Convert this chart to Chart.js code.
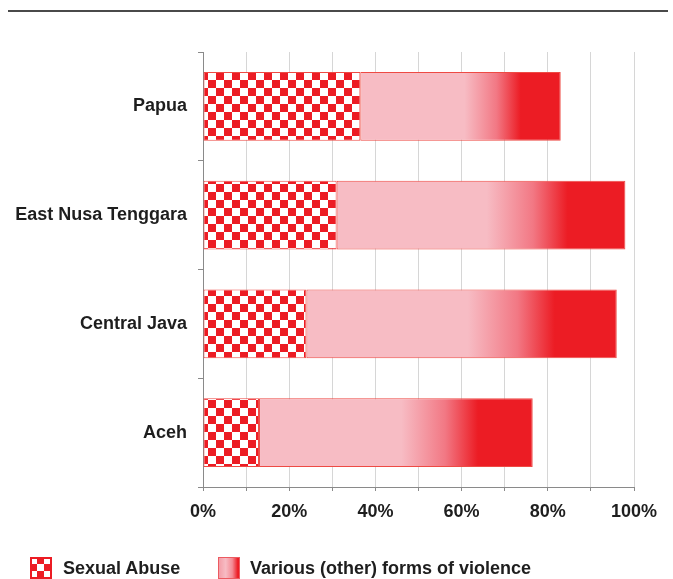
<!DOCTYPE html>
<html>
<head>
<meta charset="utf-8">
<script src="https://cdn.jsdelivr.net/npm/chart.js@4.4.0/dist/chart.umd.min.js"></script>
<style>
  html, body { margin: 0; padding: 0; background: #fff; }
  body { width: 673px; height: 579px; position: relative; overflow: hidden; font-family: "Liberation Sans", Arial, sans-serif; }
  #topline { position: absolute; left: 8px; top: 10px; width: 660px; height: 2px; background: #4a4a4a; }
  #wrap { position: absolute; left: 0; top: 0; width: 673px; height: 579px; }
  #legend { position: absolute; top: 557px; left: 0; font-weight: bold; font-size: 18px; color: #1e1e1e; }
  #legend span.item { position: absolute; white-space: nowrap; line-height: 22px; }
  #legend i { position: absolute; top: 0; width: 22px; height: 22px; }
  .chk { background-color: #fff;
    background-image: conic-gradient(#ec1c24 25%, #fff 0 50%, #ec1c24 0 75%, #fff 0);
    background-size: 14px 14px; background-position: 0 0; box-shadow: inset 0 0 0 2px #ec1c24; }
  .grd { background: linear-gradient(to right, #f39aa4, #f7bcc4 35%, #f48a94 65%, #ec1c24 90%); box-shadow: inset 0 0 0 1px #ec5a60; }
</style>
</head>
<body>
<div id="topline"></div>
<div id="wrap"><canvas id="chart" width="673" height="579"></canvas></div>
<div id="legend">
  <span class="item" style="left:30px"><i class="chk" style="left:0"></i><b style="margin-left:33px">Sexual Abuse</b></span>
  <span class="item" style="left:218px"><i class="grd" style="left:0"></i><b style="margin-left:32px">Various (other) forms of violence</b></span>
</div>
<script>
// ---------- DATA ----------
const regions = ["Papua", "East Nusa Tenggara", "Central Java", "Aceh"];
const sexualAbuse = [36.5, 31, 24, 13];
const otherViolence = [46.5, 67, 72, 63.5];
const xTicks = [0, 20, 40, 60, 80, 100];

const RED = "#ec1c24";
const PINK = "#f7bcc4";

// checkered fill for sexual abuse
function checkerPattern() {
  const c = document.createElement("canvas");
  c.width = 16; c.height = 16;
  const g = c.getContext("2d");
  g.fillStyle = "#fff"; g.fillRect(0, 0, 16, 16);
  g.fillStyle = RED;
  g.fillRect(0, 0, 8, 8);
  g.fillRect(8, 8, 8, 8);
  return g.createPattern(c, "repeat");
}

// pink -> red gradient along each bar
function barGradient(ctx) {
  const chart = ctx.chart;
  if (!chart.chartArea || ctx.type !== "data") return PINK;
  const x = chart.scales.x;
  const i = ctx.dataIndex;
  const x0 = x.getPixelForValue(sexualAbuse[i]);
  const x1 = x.getPixelForValue(sexualAbuse[i] + otherViolence[i]);
  const g = chart.ctx.createLinearGradient(x0, 0, x1, 0);
  g.addColorStop(0, PINK);
  g.addColorStop(0.52, PINK);
  g.addColorStop(0.68, "#f27884");
  g.addColorStop(0.8, RED);
  g.addColorStop(1, RED);
  return g;
}

const font = { family: "'Liberation Sans', Arial, sans-serif", size: 18, weight: "bold" };

new Chart(document.getElementById("chart"), {
  type: "bar",
  data: {
    labels: regions,
    datasets: [
      { label: "Sexual Abuse", data: sexualAbuse, backgroundColor: checkerPattern(),
        borderColor: "#ee4a44", borderWidth: 1, borderSkipped: false },
      { label: "Various (other) forms of violence", data: otherViolence, backgroundColor: barGradient,
        borderColor: "#ee4a44", borderWidth: 1, borderSkipped: false }
    ]
  },
  options: {
    indexAxis: "y",
    responsive: false,
    animation: false,
    layout: { padding: { left: 0, top: 52, right: 39, bottom: 52 } },
    datasets: { bar: { categoryPercentage: 0.63, barPercentage: 1 } },
    plugins: { legend: { display: false }, tooltip: { enabled: false } },
    scales: {
      x: {
        stacked: true, min: 0, max: 100,
        afterBuildTicks: s => { s.ticks = []; for (let v = 0; v <= 100; v += 10) s.ticks.push({ value: v }); },
        afterFit: s => { s.height = 40; },
        ticks: { autoSkip: false, maxRotation: 0, padding: 10, color: "#1e1e1e", font,
          callback: v => xTicks.includes(v) ? v + "%" : "" },
        grid: { color: "#d6d6d6", tickColor: "#8a8a8a", tickLength: 4, lineWidth: 1 },
        border: { display: true, color: "#8a8a8a", width: 1 }
      },
      y: {
        stacked: true,
        afterFit: s => { s.width = 203; },
        ticks: { color: "#1e1e1e", font, padding: 11 },
        grid: { offset: true, drawOnChartArea: false, tickColor: "#8a8a8a", tickLength: 5 },
        border: { display: true, color: "#8a8a8a", width: 1 }
      }
    }
  }
});
</script>
</body>
</html>
